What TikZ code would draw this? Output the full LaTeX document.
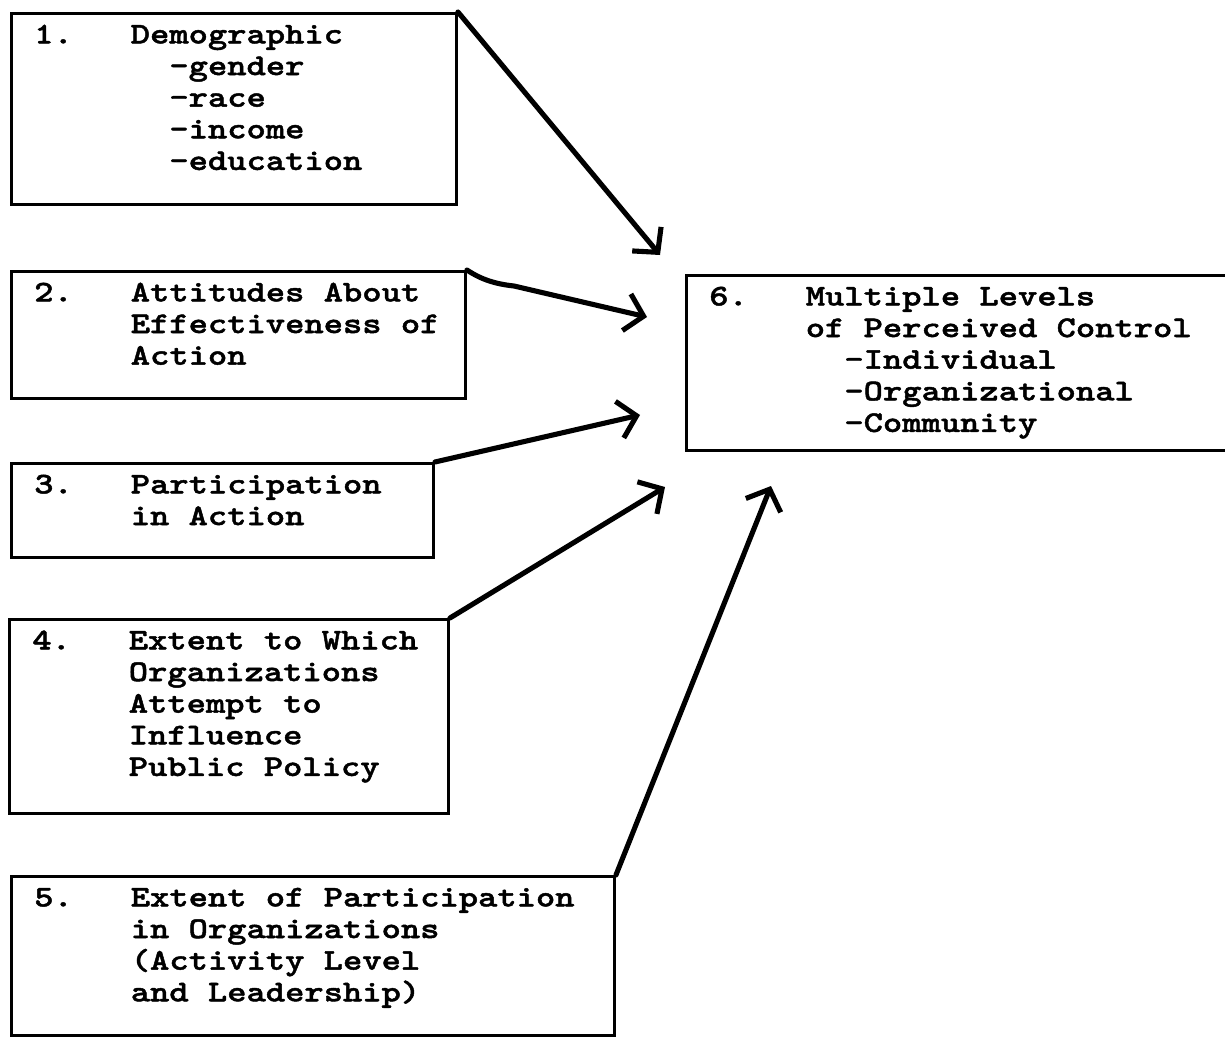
\documentclass[tikz,border=0pt]{standalone}
\usepackage{fontspec}
\newfontfamily\typewriter[FakeStretch=1.224, FakeBold=1.5]{lmmonolt10-bold.otf}
\usetikzlibrary{arrows.meta}

\newlength{\px}
\setlength{\px}{0.373pt}
\newcommand{\numcol}[1]{\makebox[36pt][l]{#1}}
\newcommand{\tabcol}{\hspace*{36pt}}
\newcommand{\subcol}{\hspace*{50.4pt}}
\newcommand{\boxtext}[3]{\parbox[t][\dimexpr#2\px-5.8pt\relax][t]{\dimexpr#1\px-17pt\relax}{\lineskiplimit=-\maxdimen\strut#3}}

\tikzset{
  factor/.style={draw, line width=1.1pt, anchor=north west, inner xsep=8.5pt, inner ysep=2.9pt,
    font=\fontsize{11.2}{11.8}\typewriter},
  link/.style={-{Straight Barb[length=6.5pt,width=14pt]}, line width=1.9pt, line cap=round, line join=round}
}

\begin{document}
\begin{tikzpicture}[x=\px, y=-\px]
        \useasboundingbox (0,0) rectangle (1225,1039);
        \node[factor] (demog) at (10,12) {\boxtext{445}{191}{\numcol{1.}Demographic\\ \subcol-gender\\ \subcol-race\\ \subcol-income\\ \subcol-education}};
        \node[factor] (attitudes) at (10,270) {\boxtext{454}{127}{\numcol{2.}Attitudes About\\ \tabcol Effectiveness of\\ \tabcol Action}};
        \node[factor] (particip) at (10,462) {\boxtext{422}{94}{\numcol{3.}Participation\\ \tabcol in Action}};
        \node[factor] (influence) at (8,618) {\boxtext{439}{194}{\numcol{4.}Extent to Which\\ \tabcol Organizations\\ \tabcol Attempt to\\ \tabcol Influence\\ \tabcol Public Policy}};
        \node[factor] (orgpart) at (10,875) {\boxtext{603}{159}{\numcol{5.}Extent of Participation\\ \tabcol in Organizations\\ \tabcol (Activity Level\\ \tabcol and Leadership)}};
        \node[factor] (control) at (685,274) {\boxtext{560}{175}{\numcol{6.}Multiple Levels\\ \tabcol of Perceived Control\\ \subcol-Individual\\ \subcol-Organizational\\ \subcol-Community}};
        
        \coordinate (tipA) at (660,255);
        \coordinate (tipB) at (647,317);
        \coordinate (tipC) at (640,415);
        \coordinate (tipD) at (665,487);
        \coordinate (tipE) at (771,486);
        
        \draw[link] (demog.north east) -- (tipA);
        \draw[link] (attitudes.north east) .. controls (482,280) and (496,284) .. (514,286) -- (tipB);
        \draw[link] (particip.north east) -- (tipC);
        \draw[link] (influence.north east) -- (tipD);
        \draw[link] (orgpart.north east) -- (tipE);
        \end{tikzpicture}
\end{document}
